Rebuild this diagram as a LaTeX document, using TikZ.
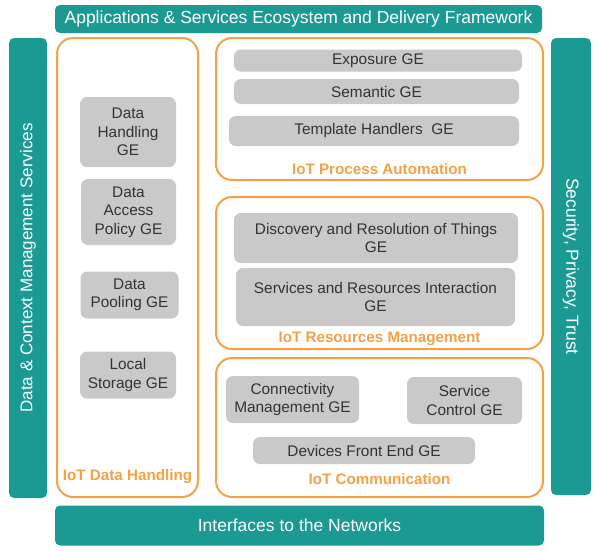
\documentclass[tikz,border=0pt]{standalone}
\usepackage{fontspec}
\setmainfont{Liberation Sans}
\usetikzlibrary{positioning}
\definecolor{tealbar}{HTML}{1B9A94}
\definecolor{orangeln}{HTML}{F3A245}
\definecolor{geface}{HTML}{C9C9C9}
\definecolor{getext}{HTML}{333333}
\tikzset{
  % --- teal frame bars ---------------------------------------------------------
  bar/.style={rectangle,rounded corners=5pt,fill=tealbar,text=white,inner sep=0pt,
              font=\fontsize{17.5}{20}\selectfont},
  % --- orange groups -------------------------------------------------------------
  grp/.style={rectangle,rounded corners=16pt,draw=orangeln,line width=2pt,fill=white,
              inner sep=0pt},
  grplab/.style={font=\bfseries\fontsize{15.2}{17}\selectfont,text=orangeln,inner sep=1pt},
  % --- generic enablers ----------------------------------------------------------
  ge/.style={rectangle,rounded corners=7pt,fill=geface,text=getext,align=center,
             inner sep=1pt,font=\fontsize{15.4}{18.5}\selectfont},
}
\begin{document}
\begin{tikzpicture}[x=1pt,y=-1pt]
  \useasboundingbox (0,0) rectangle (600,550);

  % frame
  \node[bar,minimum width=487,minimum height=28] (apps) at (298.5,19)
    {Applications \& Services Ecosystem and Delivery Framework};
  \node[bar,rotate=90,minimum width=460,minimum height=38,
        font=\fontsize{17}{20}\selectfont] (ctx) at (28,268)
    {Data \& Context Management Services};
  \node[bar,rotate=-90,minimum width=457,minimum height=40] (sec) at (571,266.5)
    {Security, Privacy, Trust};
  \node[bar,minimum width=489,minimum height=40] (net) at (299.5,525.5)
    {Interfaces to the Networks};

  % groups
  \node[grp,minimum width=141,minimum height=459] (dhg) at (127.5,267.5) {};
  \node[grp,minimum width=327,minimum height=142] (pag) at (379.5,109) {};
  \node[grp,minimum width=327,minimum height=152] (rmg) at (379.5,273) {};
  \node[grp,minimum width=327,minimum height=139] (cmg) at (379.5,427.5) {};

  \node[grplab,above=13pt of dhg.south] (dhlab) {IoT Data Handling};
  \node[grplab,above=5pt of pag.south] (palab) {IoT Process Automation};
  \node[grplab,above=3pt of rmg.south] (rmlab) {IoT Resources Management};
  \node[grplab,above=12pt of cmg.south] (cmlab) {IoT Communication};

  % data handling
  \node[ge,minimum width=96,minimum height=70] (hand) at (128,132) {Data\\Handling\\GE};
  \node[ge,minimum width=95,minimum height=66] (acc)  at (128.5,212) {Data\\Access\\Policy GE};
  \node[ge,minimum width=98,minimum height=47] (pool) at (129.5,295) {Data\\Pooling GE};
  \node[ge,minimum width=96,minimum height=47] (stor) at (128,375) {Local\\Storage GE};

  % process automation
  \node[ge,minimum width=288,minimum height=22] (expo) at (378,60.5) {Exposure GE};
  \node[ge,minimum width=285,minimum height=25] (sema) at (376.5,91.5) {Semantic GE};
  \node[ge,minimum width=290,minimum height=30] (tmpl) at (374,131) {Template Handlers~~GE};

  % resources management
  \node[ge,minimum width=284,minimum height=50] (disc) at (376,238)
    {Discovery and Resolution of Things\\GE};
  \node[ge,minimum width=279,minimum height=58] (srv) at (375.5,297)
    {Services and Resources Interaction\\GE};

  % communication
  \node[ge,minimum width=133,minimum height=47] (conn) at (292.5,399.5) {Connectivity\\Management GE};
  \node[ge,minimum width=115,minimum height=47] (ctrl) at (464.5,400.5) {Service\\Control GE};
  \node[ge,minimum width=222,minimum height=27] (dev)  at (364,450.5) {Devices Front End GE};
\end{tikzpicture}
\end{document}
